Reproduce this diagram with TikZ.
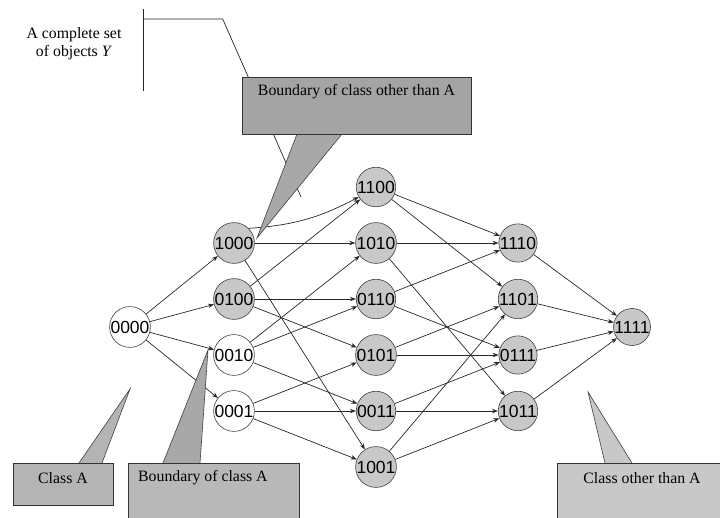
\documentclass[tikz,border=0pt]{standalone}
\usepackage{fontspec}
\setmainfont{Liberation Serif}
\newfontfamily\labfont{Liberation Sans}
\usetikzlibrary{arrows.meta}
\definecolor{nodegray}{HTML}{C8C8C8}
\definecolor{edgecol}{HTML}{282828}
\definecolor{topbox}{HTML}{A4A4A4}
\definecolor{boxA}{HTML}{B4B4B4}
\definecolor{boxB}{HTML}{B8B8B8}
\definecolor{boxC}{HTML}{C8C8C8}
\definecolor{wedgeD}{HTML}{A8A8A8}
\tikzset{
  vnode/.style={circle, minimum size=37pt, inner sep=0pt, draw=black!75, line width=0.6pt,
                font=\labfont\fontsize{17.5}{17.5}\selectfont},
  gnode/.style={vnode, fill=nodegray},
  wnode/.style={vnode, fill=white},
  edge/.style={draw=edgecol, line width=0.7pt, -{Stealth[length=6pt,width=4.5pt]}},
  callbox/.style={draw=black!80, line width=0.7pt},
  wedgestyle/.style={draw=black!75, line width=0.6pt, line join=miter},
  calltext/.style={inner sep=0pt, font=\fontsize{15.8}{18}\selectfont},
}
\begin{document}
\begin{tikzpicture}[x=1pt,y=-1pt]
\useasboundingbox (0,0) rectangle (720,518);

% bracket for the complete set
\coordinate (bv1) at (143,9);
\coordinate (bv2) at (143,91);
\coordinate (bh1) at (143,19);
\coordinate (bh2) at (222.7,19);
\coordinate (bend) at (301,197);
\draw[black!85, line width=0.7pt] (bv1) -- (bv2);
\draw[black!85, line width=0.7pt] (bh1) -- (bh2) -- (bend);
\node[calltext, align=center] (setlab) at (74,44) {A complete set\\of objects \textit{Y}};

% nodes
\node[wnode] (n0000) at (130,327) {0000};
\node[gnode] (n1000) at (234,243) {1000};
\node[gnode] (n0100) at (234,299) {0100};
\node[wnode] (n0010) at (234,355) {0010};
\node[wnode] (n0001) at (234,411) {0001};
\node[gnode] (n1100) at (376,187) {1100};
\node[gnode] (n1010) at (376,243) {1010};
\node[gnode] (n0110) at (376,299) {0110};
\node[gnode] (n0101) at (376,355) {0101};
\node[gnode] (n0011) at (376,411) {0011};
\node[gnode] (n1001) at (376,467) {1001};
\node[gnode] (n1110) at (518,243) {1110};
\node[gnode] (n1101) at (518,299) {1101};
\node[gnode] (n0111) at (518,355) {0111};
\node[gnode] (n1011) at (518,411) {1011};
\node[gnode] (n1111) at (632,327) {1111};

% edges
\foreach \t in {1000,0100,0010,0001} \draw[edge] (n0000) -- (n\t);
\draw[edge] (n1000.north east) to[bend right=12] (n1100);
\draw[edge] (n1000) -- (n1010);
\draw[edge] (n1000) -- (n1001);
\draw[edge] (n0100) -- (n1100);
\draw[edge] (n0100) -- (n0110);
\draw[edge] (n0100) -- (n0101);
\draw[edge] (n0010) -- (n1010);
\draw[edge] (n0010) -- (n0110);
\draw[edge] (n0010) -- (n0011);
\draw[edge] (n0001) -- (n0101);
\draw[edge] (n0001) -- (n0011);
\draw[edge] (n0001) -- (n1001);
\draw[edge] (n1100) -- (n1110);
\draw[edge] (n1100) -- (n1101);
\draw[edge] (n1010) -- (n1110);
\draw[edge] (n1010) -- (n1011);
\draw[edge] (n0110) -- (n1110);
\draw[edge] (n0110) -- (n0111);
\draw[edge] (n0101) -- (n1101);
\draw[edge] (n0101) -- (n0111);
\draw[edge] (n0011) -- (n0111);
\draw[edge] (n0011) -- (n1011);
\draw[edge] (n1001) -- (n1101);
\draw[edge] (n1001) -- (n1011);
\foreach \s in {1110,1101,0111,1011} \draw[edge] (n\s) -- (n1111);

% callout wedges
\filldraw[wedgestyle, fill=wedgeD] (297,134) -- (257,238) -- (342,134);
\filldraw[wedgestyle, fill=boxA] (79,463) -- (130,389) -- (102,463);
\filldraw[wedgestyle, fill=wedgeD] (163,463) -- (208,350) -- (200,463);
\filldraw[wedgestyle, fill=boxC] (605,463) -- (588,392) -- (632,463);

% callout boxes
\filldraw[callbox, fill=topbox] (242,77) rectangle (471,134);
\node[calltext] (toplab) at (356.5,92) {Boundary of class other than A};
\filldraw[callbox, fill=boxA] (13,463) rectangle (113,505);
\node[calltext] (alab) at (63,478) {Class A};
\filldraw[callbox, fill=boxB] (128,463) rectangle (299,522);
\node[calltext, anchor=west] (blab) at (138,478) {Boundary of class A};
\filldraw[callbox, fill=boxC] (557,463) rectangle (724,522);
\node[calltext] (clab) at (642,478) {Class other than A};
\end{tikzpicture}
\end{document}
